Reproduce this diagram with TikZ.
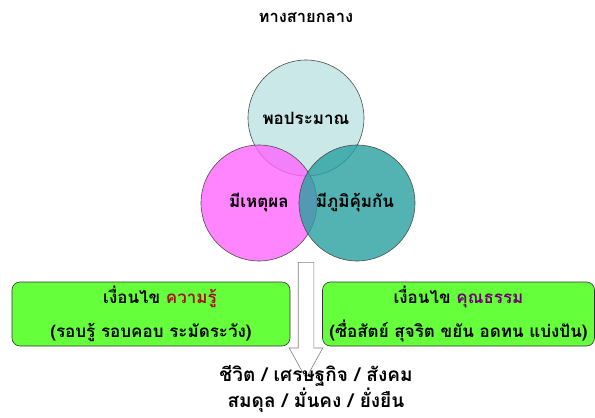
\documentclass[tikz,border=0pt]{standalone}
\usepackage{fontspec}
\newfontfamily\thaifont[Script=Thai]{Loma}
\usetikzlibrary{shapes.arrows, positioning}
\definecolor{topcyan}{RGB}{190,226,226}
\definecolor{leftpink}{RGB}{255,102,255}
\definecolor{rightteal}{RGB}{40,160,160}
\definecolor{boxgreen}{RGB}{102,255,60}
\definecolor{knowred}{RGB}{160,20,20}
\definecolor{virtpurple}{RGB}{110,0,110}

\begin{document}
\begin{tikzpicture}
[x=1pt, y=-1pt,
thai/.style={font=\thaifont\bfseries\fontsize{#1}{#1}\selectfont},
venn/.style={circle, draw=black!70, line width=.6pt, minimum size=116pt, inner sep=0pt,
  fill opacity=.8, text opacity=1, thai=17},
cond/.style={rectangle, rounded corners=8pt, draw=black!80, fill=boxgreen, line width=.6pt,
  minimum height=64pt, align=center, inner sep=0pt,
  font=\thaifont\bfseries\fontsize{17}{34}\selectfont},
flow/.style={single arrow, rotate=-90, anchor=tail, draw=black!50, fill=white, line width=.6pt,
  minimum height=116pt, inner xsep=0pt, inner ysep=7.5pt, single arrow head extend=9pt,
  single arrow tip angle=58},
]
\useasboundingbox (0,0) rectangle (595,418);

\node[thai=16.5] (title) at (306,18) {ทางสายกลาง};

% three circles
\node[venn, fill=topcyan] (moderation) at (306,118) {พอประมาณ};
\node[venn, fill=leftpink] (reason) at (259,203) {มีเหตุผล};
\node[venn, fill=rightteal] (immunity) at (357,203) {\hspace*{-4pt}มีภูมิคุ้มกัน};

\node[flow] (arrow) at (306,262) {};

% conditions
\node[cond, minimum width=278pt] (knowledge) at (151,314)
  {\hspace*{18pt}เงื่อนไข \textcolor{knowred}{ความรู้}\\ (รอบรู้ รอบคอบ ระมัดระวัง)};
\node[cond, minimum width=272pt] (virtue) at (458.5,314)
  {เงื่อนไข \textcolor{virtpurple}{คุณธรรม}\\ (ซื่อสัตย์ สุจริต ขยัน อดทน แบ่งปัน)};

\node[align=center, inner sep=0pt, font=\thaifont\bfseries\fontsize{19}{22}\selectfont] (result) at (316,389)
  {ชีวิต / เศรษฐกิจ / สังคม\\ สมดุล / มั่นคง / ยั่งยืน};
\end{tikzpicture}
\end{document}
